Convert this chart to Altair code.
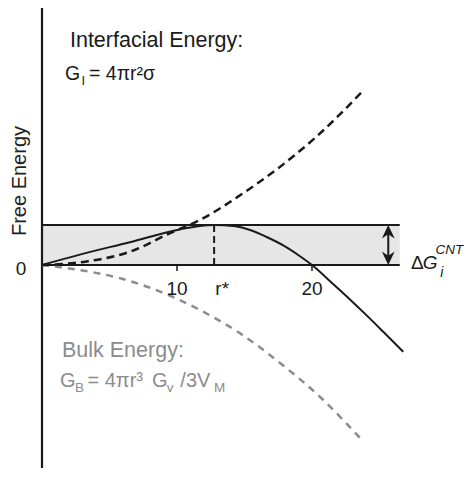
import altair as alt
import pandas as pd

# ---- values (r in axis units, free energy in arbitrary units) ----
r_total = [0, 2.8, 6.5, 10.2, 11.7, 12.75, 14.17, 15.41, 16.64, 17.87, 19.11, 20, 21.58, 22.81, 24.05, 25.28, 26.76]
g_total = [0, 2.6, 5.7, 8.9, 9.75, 10, 9.75, 8.75, 7.0, 4.9, 2.2, 0, -4.8, -8.6, -12.6, -16.7, -21.7]

r_interfacial = [0, 3.3, 6.5, 9.5, 11.7, 14.7, 17.5, 20.2, 23.8]
g_interfacial = [0, 0.9, 3.3, 8.0, 11.25, 17.5, 24.2, 31.7, 43.6]

r_bulk = [0, 2.3, 6.0, 9.7, 11.7, 14.4, 18.1, 20.6, 23.7]
g_bulk = [0, -1.0, -3.5, -8.0, -11.25, -16.5, -25.75, -33.0, -43.75]

x_ticks = [10, 20]
x_tick_labels = ["10", "20"]
r_star = 12.75
dg_star = 10
x_end = 26.5
arrow_x = 25.65

X_DOMAIN = [0, 31.26]
Y_DOMAIN = [-50.75, 64.25]

FONT = "Liberation Sans"
DARK = "#1a1a1a"
GRAY = "#8c8c8c"

xs = alt.Scale(domain=X_DOMAIN, nice=False, zero=False)
ys = alt.Scale(domain=Y_DOMAIN, nice=False, zero=False)


def X(f="x"):
    return alt.X(f"{f}:Q", scale=xs, axis=None)


def Y(f="y"):
    return alt.Y(f"{f}:Q", scale=ys, axis=None)


band = alt.Chart(pd.DataFrame({"x": [0], "x2": [x_end], "y": [0], "y2": [dg_star]})).mark_rect(
    color="#e6e6e6"
).encode(x=X(), x2="x2", y=Y(), y2="y2")

hlines = alt.Chart(pd.DataFrame({"x": [0, 0], "x2": [x_end, x_end], "y": [0, dg_star]})).mark_rule(
    color=DARK, strokeWidth=2
).encode(x=X(), x2="x2", y=Y())

yaxis = alt.Chart(pd.DataFrame({"x": [0], "y": [Y_DOMAIN[0]], "y2": [Y_DOMAIN[1]]})).mark_rule(
    color=DARK, strokeWidth=2.2
).encode(x=X(), y=Y(), y2="y2")

ticks = alt.Chart(pd.DataFrame({"x": x_ticks, "y": [0, 0], "y2": [-1.5, -1.5]})).mark_rule(
    color=DARK, strokeWidth=1.5
).encode(x=X(), y=Y(), y2="y2")

rstar_line = alt.Chart(pd.DataFrame({"x": [r_star], "y": [0], "y2": [dg_star]})).mark_rule(
    color=DARK, strokeWidth=2, strokeDash=[7, 4]
).encode(x=X(), y=Y(), y2="y2")

total = alt.Chart(pd.DataFrame({"x": r_total, "y": g_total})).mark_line(
    color=DARK, strokeWidth=2, interpolate="monotone"
).encode(x=X(), y=Y())

interfacial = alt.Chart(pd.DataFrame({"x": r_interfacial, "y": g_interfacial})).mark_line(
    color=DARK, strokeWidth=2.5, strokeDash=[8, 5], interpolate="monotone"
).encode(x=X(), y=Y())

bulk = alt.Chart(pd.DataFrame({"x": r_bulk, "y": g_bulk})).mark_line(
    color=GRAY, strokeWidth=2.5, strokeDash=[7, 6], interpolate="monotone"
).encode(x=X(), y=Y())

arrow_shaft = alt.Chart(pd.DataFrame({"x": [arrow_x], "y": [0.8], "y2": [dg_star - 0.8]})).mark_rule(
    color=DARK, strokeWidth=2
).encode(x=X(), y=Y(), y2="y2")

head_up = alt.Chart(pd.DataFrame({"x": [arrow_x], "y": [dg_star]})).mark_point(
    shape="M0,0 L0.8,1.7 L0,1.15 L-0.8,1.7 Z", filled=True, size=256, color=DARK, opacity=1
).encode(x=X(), y=Y())
head_down = alt.Chart(pd.DataFrame({"x": [arrow_x], "y": [0]})).mark_point(
    shape="M0,0 L0.8,-1.7 L0,-1.15 L-0.8,-1.7 Z", filled=True, size=256, color=DARK, opacity=1
).encode(x=X(), y=Y())


def text_layer(rows, **kw):
    df = pd.DataFrame(rows, columns=["x", "y", "t", "s"])
    return alt.Chart(df).mark_text(font=FONT, baseline="alphabetic", **kw).encode(
        x=X(), y=Y(), text="t:N", size=alt.Size("s:Q", scale=None)
    )


dark_text = text_layer(
    [
        [2.07, 54.5, "Interfacial Energy:", 21.5],
        [1.70, 46.25, "G", 19.5],
        [2.93, 45.0, "I", 13],
        [3.48, 46.25, "= 4πr²σ", 19.5],
        [27.33, -1.0, "Δ", 19],
    ],
    align="left", color=DARK,
)
italic_text = text_layer(
    [
        [28.2, -1.0, "G", 19],
        [29.15, 2.75, "CNT", 13.5],
        [29.5, -3.0, "i", 14],
    ],
    align="left", color=DARK, fontStyle="italic",
)
gray_text = text_layer(
    [
        [1.48, -23.0, "Bulk Energy:", 21.5],
        [1.33, -30.5, "G", 20],
        [2.44, -31.75, "B", 13.5],
        [3.37, -30.5, "= 4πr³", 20],
        [8.15, -30.5, "G", 20],
        [9.25, -31.75, "v", 13.5],
        [10.25, -30.5, "/3V", 20],
        [12.75, -31.75, "M", 13.5],
    ],
    align="left", color=GRAY,
)
tick_text = text_layer(
    [[x_ticks[0], -7.5, x_tick_labels[0], 19], [x_ticks[1], -7.5, x_tick_labels[1], 19],
     [13.35, -7.5, "r*", 19], [-1.55, -2.5, "0", 19]],
    align="center", color=DARK,
)
ytitle = alt.Chart(pd.DataFrame({"x": [-1.63], "y": [21], "t": ["Free Energy"]})).mark_text(
    font=FONT, fontSize=20, angle=270, align="center", baseline="middle", color="#222"
).encode(x=X(), y=Y(), text="t:N")

chart = alt.layer(
    band, hlines, yaxis, ticks, rstar_line, bulk, interfacial, total,
    arrow_shaft, head_up, head_down,
    dark_text, italic_text, gray_text, tick_text, ytitle,
).properties(
    width=422, height=460,
    padding={"left": 34, "top": 0, "right": 0, "bottom": 0},
    autosize=alt.AutoSizeParams(type="none"),
).configure_view(strokeWidth=0)

chart.save("out.html", embed_options={"renderer": "svg", "actions": False})
